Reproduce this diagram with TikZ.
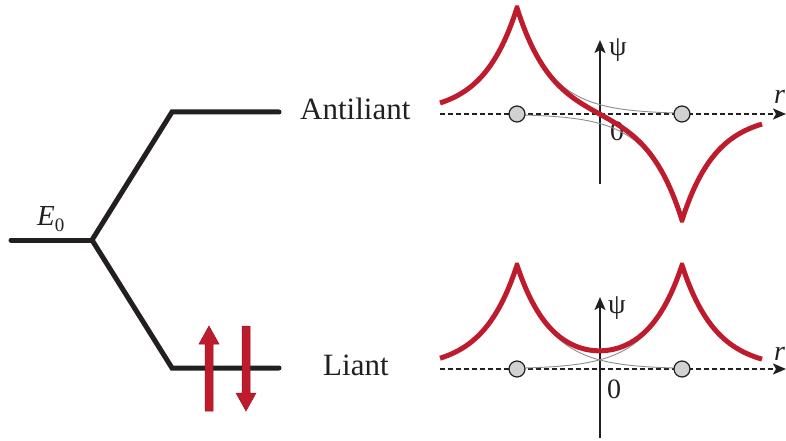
\documentclass[tikz,border=0pt]{standalone}
\usepackage{fontspec}
\setmainfont{Liberation Serif}
\usetikzlibrary{arrows.meta}
\definecolor{wred}{RGB}{190,28,45}
\definecolor{ink}{RGB}{35,31,32}
\begin{document}
\begin{tikzpicture}[x=1pt,y=-1pt,
  level/.style={line width=5pt, draw=ink, line cap=round, line join=miter},
  axisdash/.style={line width=2pt, draw=ink, dash pattern=on 5pt off 3pt, -{Stealth[length=13pt,width=11pt,inset=3pt]}},
  axisv/.style={line width=2pt, draw=ink, -{Stealth[length=13pt,width=11pt,inset=3pt]}},
  wave/.style={line width=5pt, draw=wred, line join=miter},
  orb/.style={line width=0.9pt, draw=black!45},
  atom/.style={circle, minimum size=16pt, inner sep=0pt, fill=black!18, draw=ink, line width=1.2pt},
  lab/.style={font=\fontsize{31}{36}\selectfont, text=ink, inner sep=0pt},
  num/.style={font=\fontsize{28}{32}\selectfont, text=ink, inner sep=0pt},
  spin/.style={fill=wred, draw=wred!80!black, line width=0.5pt}
]
\useasboundingbox (0,0) rectangle (786,441);

% energy levels
\coordinate (e0l) at (11,240);
\coordinate (e0r) at (92,240);
\coordinate (upl) at (172,112);
\coordinate (upr) at (279,112);
\coordinate (lol) at (172,368);
\coordinate (lor) at (279,368);
\draw[level] (e0l) -- (e0r);
\draw[level] (upr) -- (upl) -- (e0r) -- (lol) -- (lor);

\node[anchor=base west, font=\fontsize{29}{32}\selectfont, text=ink, inner sep=0pt] (E0) at (37,225) {\itshape E\upshape\raisebox{-0.22em}{\fontsize{19}{19}\selectfont 0}};
\node[lab, anchor=base west] (anti) at (300,119) {Antiliant};
\node[lab, anchor=base west] (liant) at (323,375) {Liant};

% spins
\draw[spin] (205,411) -- (205,344) -- (199,344) -- (209,326) -- (219,344) -- (213,344) -- (213,411) -- cycle;
\draw[spin] (242,326) -- (242,393) -- (236,393) -- (246,411) -- (256,393) -- (250,393) -- (250,326) -- cycle;

% ---------- top wavefunction (antiliant)
\coordinate (h1s) at (440,114);
\coordinate (h1e) at (786,114);
\coordinate (v1s) at (600,184);
\coordinate (v1e) at (600,40);
\draw[axisdash] (h1s) -- (h1e);
\draw[axisv] (v1s) -- (v1e);
\node[num, anchor=center] (psi1) at (618,50) {ψ};
\node[num, anchor=base] (z1) at (617,140) {0};
\node[num, anchor=base west] (r1) at (774,103) {\itshape r};
\draw[orb] plot[domain=517:682,samples=60] (\x,{114-107*exp(-(\x-517)/34)});
\draw[orb] plot[domain=517:682,samples=60] (\x,{114+107*exp(-(682-\x)/34)});
\node[atom] (a1) at (517,114) {};
\node[atom] (b1) at (682,114) {};
\draw[wave] plot[domain=440:517,samples=40] (\x,{114-107*(exp(-abs(\x-517)/34)-exp(-abs(\x-682)/34))})
  -- plot[domain=517:682,samples=90] (\x,{114-107*(exp(-abs(\x-517)/34)-exp(-abs(\x-682)/34))})
  -- plot[domain=682:762,samples=40] (\x,{114-107*(exp(-abs(\x-517)/34)-exp(-abs(\x-682)/34))});

% ---------- bottom wavefunction (liant)
\coordinate (h2s) at (440,369);
\coordinate (h2e) at (786,369);
\coordinate (v2s) at (600,438);
\coordinate (v2e) at (600,297);
\draw[axisdash] (h2s) -- (h2e);
\draw[axisv] (v2s) -- (v2e);
\node[num, anchor=center] (psi2) at (617,308) {ψ};
\node[num, anchor=base] (z2) at (614,398) {0};
\node[num, anchor=base west] (r2) at (774,360) {\itshape r};
\draw[orb] plot[domain=517:682,samples=60] (\x,{369-103*exp(-(\x-517)/34)});
\draw[orb] plot[domain=517:682,samples=60] (\x,{369-103*exp(-(682-\x)/34)});
\node[atom] (a2) at (517,369) {};
\node[atom] (b2) at (682,369) {};
\draw[wave] plot[domain=440:517,samples=40] (\x,{369-103*(exp(-abs(\x-517)/34)+exp(-abs(\x-682)/34))})
  -- plot[domain=517:682,samples=90] (\x,{369-103*(exp(-abs(\x-517)/34)+exp(-abs(\x-682)/34))})
  -- plot[domain=682:762,samples=40] (\x,{369-103*(exp(-abs(\x-517)/34)+exp(-abs(\x-682)/34))});
\end{tikzpicture}
\end{document}
